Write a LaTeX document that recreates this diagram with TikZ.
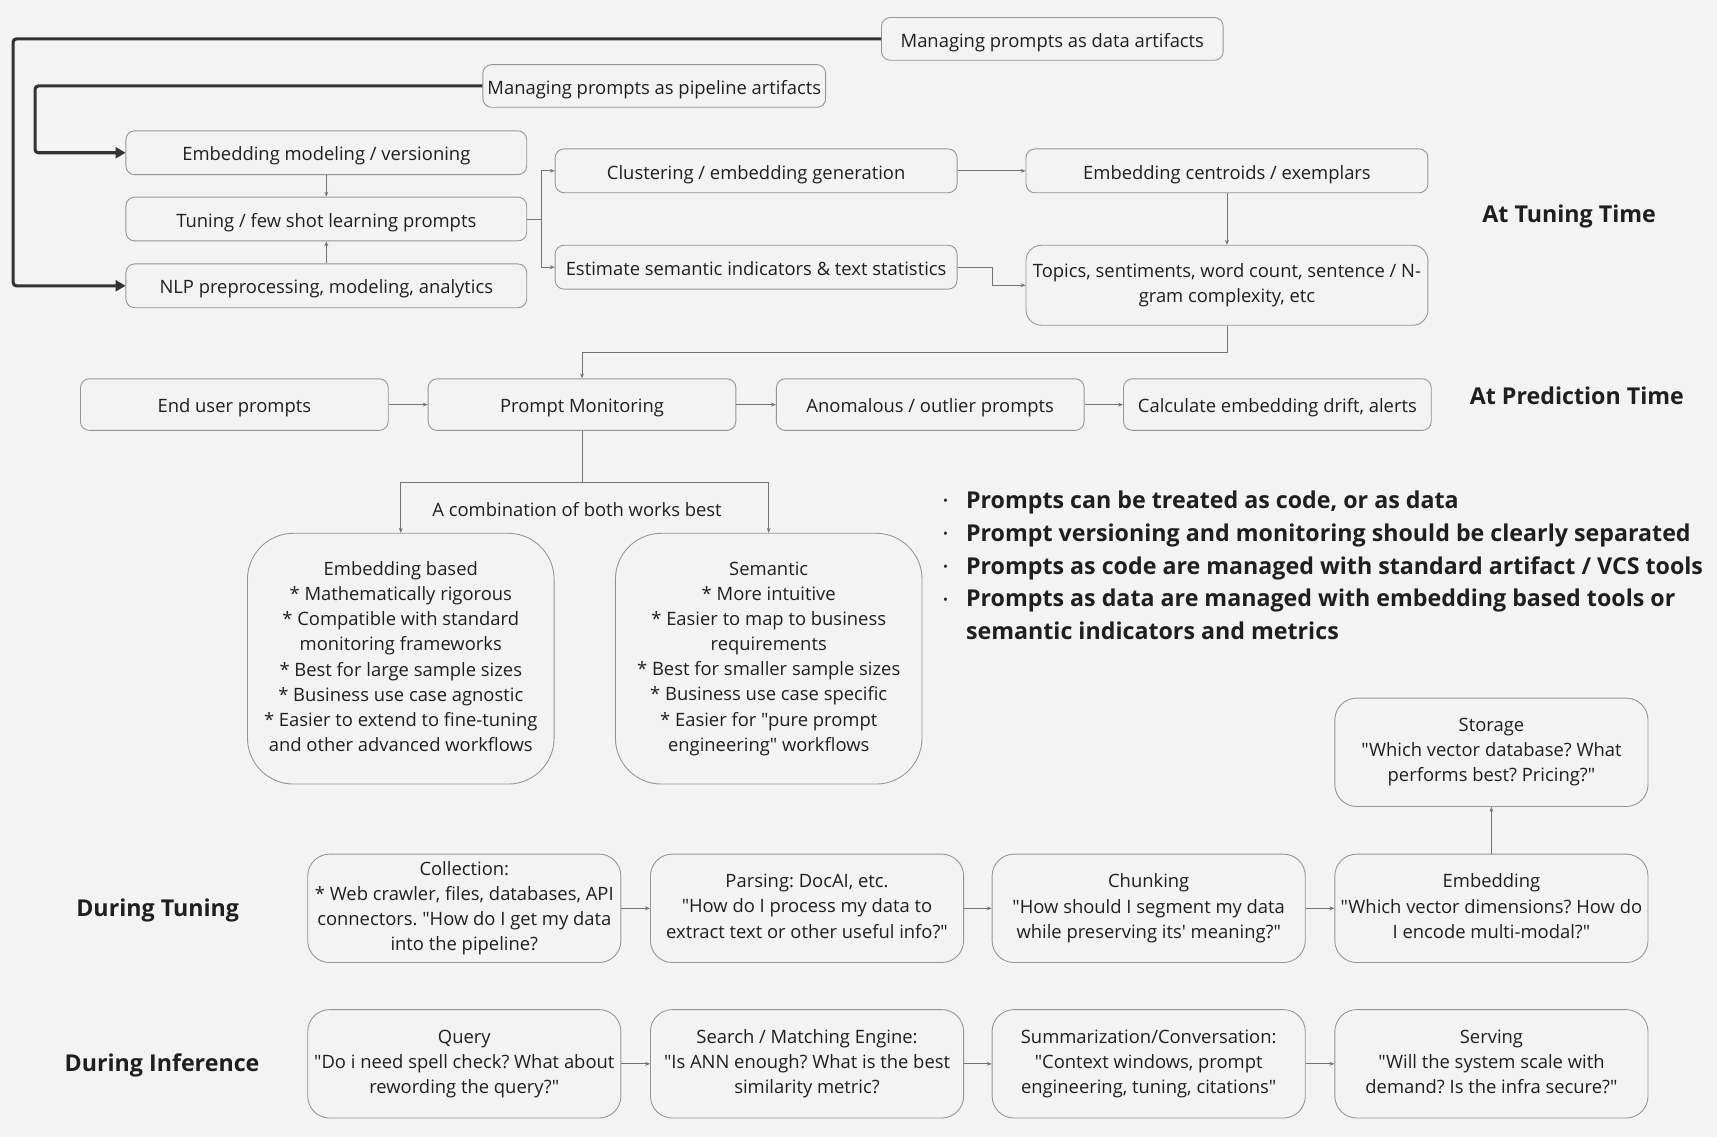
\documentclass[tikz,border=0pt]{standalone}
\usepackage{fontspec}
\setmainfont{Open Sans}[Ligatures=TeXOff]
\usetikzlibrary{arrows.meta}
\definecolor{bgcol}{HTML}{F3F3F3}
\newcommand{\boxcol}{black!42}
\newcommand{\wirecol}{black!55}
\newcommand{\heavycol}{black!80}
\newcommand{\inkcol}{black!88}
\newcommand{\dotmark}{{\mdseries\fontsize{12}{12}\selectfont\raisebox{2.5pt}{\textbullet}}}
\frenchspacing

\tikzset{
  boxbase/.style={draw=\boxcol, line width=0.8pt, rounded corners=8pt, align=center,
    inner sep=0pt, text=\inkcol, font=\fontsize{16.8}{23}\selectfont},
  card/.style={boxbase,
    execute at begin node={\rule{0pt}{19pt}}, execute at end node={\rule[-4pt]{0pt}{4pt}}},
  tallcard/.style={boxbase,
    execute at begin node={\rule{0pt}{24pt}}, execute at end node={\rule[-4pt]{0pt}{4pt}}},
  slim/.style={card, minimum width=366pt, minimum height=40pt},
  wide/.style={card, minimum width=281pt, minimum height=47pt},
  bulky/.style={tallcard, minimum width=280pt, minimum height=229pt, rounded corners=42pt},
  stage/.style={tallcard, minimum width=286pt, minimum height=99pt, rounded corners=20pt},
  wire/.style={draw=\wirecol, line width=0.8pt, -{Stealth[length=4.5pt,width=3.5pt]}},
  heavy/.style={draw=\heavycol, line width=2.8pt, rounded corners=3pt,
    -{Triangle[length=9pt,width=10pt]}},
  phase/.style={inner sep=0pt, text=\inkcol, font=\fontsize{21.2}{24}\selectfont\bfseries},
}

\begin{document}
\begin{tikzpicture}[x=1pt, y=-1pt]

    \path[use as bounding box, fill=bgcol] (0,0) rectangle (1568,1038);

    % artifact boxes at the top
    \node[card, minimum width=312pt, minimum height=39pt] (dataart) at (961,35.5) {Managing prompts as data artifacts};
    \node[card, minimum width=313pt, minimum height=39pt] (pipeart) at (597.5,78.5) {Managing prompts as pipeline artifacts};

    % tuning time
    \node[slim] (embmod) at (298,139.5) {Embedding modeling / versioning};
    \node[slim] (tuning) at (298,200) {Tuning / few shot learning prompts};
    \node[slim] (nlp) at (298,261) {NLP preprocessing, modeling, analytics};
    \node[slim, minimum width=367pt] (cluster) at (690.5,156) {Clustering / embedding generation};
    \node[slim, minimum width=367pt] (estim) at (690.5,244) {Estimate semantic indicators \& text statistics};
    \node[slim, minimum width=367pt] (centroid) at (1120.5,156) {Embedding centroids / exemplars};
    \node[tallcard, minimum width=367pt, minimum height=73pt, rounded corners=14pt] (topics) at (1120.5,260.5)
        {Topics, sentiments, word count, sentence / N-\\gram complexity, etc};

    \node[phase] (tunetime) at (1433,198) {At Tuning Time};

    \draw[heavy] (dataart.west) -- (12,35.5) -- (12,261) -- (nlp.west);
    \draw[heavy] (pipeart.west) -- (32,78.5) -- (32,139.5) -- (embmod.west);

    \draw[wire] (embmod) -- (tuning);
    \draw[wire] (nlp) -- (tuning);
    \draw[wire] (tuning.east) -- ++(13,0) |- (cluster.west);
    \draw[wire] (tuning.east) -- ++(13,0) |- (estim.west);
    \draw[wire] (cluster) -- (centroid);
    \draw[wire] (centroid) -- (topics);
    \draw[wire] (estim.east) -- ++(32,0) |- (topics.west);

    % prediction time
    \node[wide] (enduser) at (214,369.5) {End user prompts};
    \node[wide] (monitor) at (531.5,369.5) {Prompt Monitoring};
    \node[wide] (anomal) at (849.5,369.5) {Anomalous / outlier prompts};
    \node[wide] (drift) at (1166.5,369.5) {Calculate embedding drift, alerts};

    \node[phase] (predtime) at (1440,361) {At Prediction Time};

    \draw[wire] (topics.south) -- ++(0,24) -| (monitor.north);
    \draw[wire] (enduser) -- (monitor);
    \draw[wire] (monitor) -- (anomal);
    \draw[wire] (anomal) -- (drift);

    \node[card, draw=none] (combo) at (527,464) {A combination of both works best};

    \node[bulky] (embbased) at (366,601.5) {Embedding based\\* Mathematically rigorous\\* Compatible with standard\\monitoring frameworks\\* Best for large sample sizes\\* Business use case agnostic\\* Easier to extend to fine-tuning\\and other advanced workflows};
    \node[bulky] (semantic) at (702,601.5) {Semantic\\* More intuitive\\* Easier to map to business\\requirements\\* Best for smaller sample sizes\\* Business use case specific\\* Easier for "pure prompt\\engineering" workflows};

    \draw[wire] (monitor.south) -- ++(0,47) -| (embbased.north);
    \draw[wire] (monitor.south) -- ++(0,47) -| (semantic.north);

    % notes
    \node[anchor=north west, inner sep=0pt, text=\inkcol, font=\fontsize{21.2}{30}\selectfont\bfseries] (notes) at (861,443)
        {\begin{tabular}{@{}c@{\hspace{16.5pt}}l@{}}
        \dotmark & Prompts can be treated as code, or as data\\
        \dotmark & Prompt versioning and monitoring should be clearly separated\\
        \dotmark & Prompts as code are managed with standard artifact / VCS tools\\
        \dotmark & Prompts as data are managed with embedding based tools or\\
         & semantic indicators and metrics
        \end{tabular}};

    % retrieval pipeline
    \node[phase] (duringtune) at (144,831) {During Tuning};
    \node[phase] (duringinf) at (148,973) {During Inference};

    \node[stage] (collect) at (424,829.5) {Collection:\\* Web crawler, files, databases, API\\connectors. "How do I get my data\\into the pipeline?};
    \node[stage] (parse) at (737,829.5) {Parsing: DocAI, etc.\\"How do I process my data to\\extract text or other useful info?"};
    \node[stage] (chunk) at (1049,829.5) {Chunking\\"How should I segment my data\\while preserving its' meaning?"};
    \node[stage] (embed) at (1362,829.5) {Embedding\\"Which vector dimensions? How do\\I encode multi-modal?"};
    \node[stage] (storage) at (1362,687) {Storage\\"Which vector database? What\\performs best? Pricing?"};

    \node[stage] (query) at (424,971.5) {Query\\"Do i need spell check? What about\\rewording the query?"};
    \node[stage] (search) at (737,971.5) {Search / Matching Engine:\\"Is ANN enough? What is the best\\similarity metric?};
    \node[stage] (summar) at (1049,971.5) {Summarization/Conversation:\\"Context windows, prompt\\engineering, tuning, citations"};
    \node[stage] (serve) at (1362,971.5) {Serving\\"Will the system scale with\\demand? Is the infra secure?"};

    \draw[wire] (collect) -- (parse);
    \draw[wire] (parse) -- (chunk);
    \draw[wire] (chunk) -- (embed);
    \draw[wire] (embed) -- (storage);
    \draw[wire] (query) -- (search);
    \draw[wire] (search) -- (summar);
    \draw[wire] (summar) -- (serve);

\end{tikzpicture}
\end{document}
